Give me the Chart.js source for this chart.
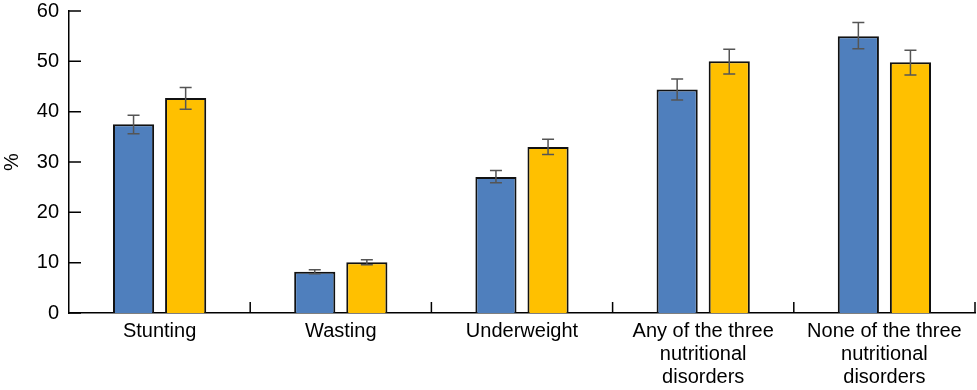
<!DOCTYPE html>
<html>
<head>
<meta charset="utf-8">
<script src="https://cdn.jsdelivr.net/npm/chart.js@4/dist/chart.umd.min.js"></script>
<style>
  body { margin: 0; background: #fff; }
  #wrap { width: 977px; height: 390px; }
</style>
</head>
<body>
<div id="wrap"><canvas id="barChart"></canvas></div>
<script>
var categories = [['Stunting'], ['Wasting'], ['Underweight'],
    ['Any of the three', 'nutritional', 'disorders'],
    ['None of the three', 'nutritional', 'disorders']];
var blueValues = [37.5, 8.2, 27.0, 44.4, 55.0];
var blueLow = [35.6, 7.8, 25.9, 42.3, 52.5];
var blueHigh = [39.3, 8.6, 28.3, 46.5, 57.7];
var yellowValues = [42.7, 10.1, 33.0, 50.0, 49.8];
var yellowLow = [40.5, 9.6, 31.5, 47.5, 47.3];
var yellowHigh = [44.8, 10.6, 34.5, 52.4, 52.2];
var yTicks = [0, 10, 20, 30, 40, 50, 60];

var errorBars = {
    id: 'errorBars',
    afterDatasetsDraw: function (chart) {
        var ctx = chart.ctx;
        var y = chart.scales.y;
        ctx.save();
        ctx.strokeStyle = '#555555';
        ctx.lineWidth = 1.5;
        chart.data.datasets.forEach(function (ds, i) {
            var meta = chart.getDatasetMeta(i);
            meta.data.forEach(function (bar, j) {
                var top = y.getPixelForValue(ds.errHigh[j]);
                var bot = y.getPixelForValue(ds.errLow[j]);
                ctx.beginPath();
                ctx.moveTo(bar.x, top); ctx.lineTo(bar.x, bot);
                ctx.moveTo(bar.x - 6, top); ctx.lineTo(bar.x + 6, top);
                ctx.moveTo(bar.x - 6, bot); ctx.lineTo(bar.x + 6, bot);
                ctx.stroke();
            });
        });
        ctx.restore();
    }
};

var innerTicks = {
    id: 'innerTicks',
    afterDraw: function (chart) {
        var ctx = chart.ctx;
        var x = chart.scales.x, y = chart.scales.y;
        var area = chart.chartArea;
        ctx.save();
        ctx.strokeStyle = '#000';
        ctx.lineWidth = 1.5;
        ctx.beginPath();
        yTicks.forEach(function (v) {
            var py = y.getPixelForValue(v);
            ctx.moveTo(area.left, py); ctx.lineTo(area.left + 12, py);
        });
        var step = (area.right - area.left) / categories.length;
        for (var i = 1; i <= categories.length; i++) {
            var px = area.left + step * i;
            ctx.moveTo(px, area.bottom); ctx.lineTo(px, area.bottom - 11);
        }
        ctx.stroke();
        ctx.restore();
    }
};

var ctx = document.getElementById('barChart').getContext('2d');
var chart = new Chart(ctx, {
    type: 'bar',
    data: {
        labels: categories,
        datasets: [{
            label: 'Group 1',
            data: blueValues,
            errLow: blueLow,
            errHigh: blueHigh,
            backgroundColor: '#4f7fbd',
            borderColor: '#111',
            borderWidth: 2
        }, {
            label: 'Group 2',
            data: yellowValues,
            errLow: yellowLow,
            errHigh: yellowHigh,
            backgroundColor: '#ffc000',
            borderColor: '#111',
            borderWidth: 2
        }]
    },
    options: {
        responsive: true,
        maintainAspectRatio: false,
        animation: false,
        layout: { padding: { top: 11, right: 2, left: 0, bottom: 0 } },
        datasets: { bar: { categoryPercentage: 0.575, barPercentage: 0.79 } },
        plugins: { legend: { display: false }, tooltip: { enabled: false } },
        scales: {
            x: {
                grid: { display: false, drawTicks: false },
                border: { display: true, color: '#000', width: 1.5 },
                ticks: {
                    color: '#000',
                    padding: 7,
                    maxRotation: 0,
                    autoSkip: false,
                    font: { family: 'Liberation Sans, Arial, sans-serif', size: 20, lineHeight: 1.15 }
                },
                afterFit: function (scale) {
                    scale.height = 77;
                    scale.paddingLeft = 0;
                    scale.paddingRight = 0;
                }
            },
            y: {
                min: 0,
                max: 60,
                grid: { display: false, drawTicks: false },
                border: { display: true, color: '#000', width: 1.5 },
                ticks: {
                    stepSize: 10,
                    color: '#000',
                    padding: 10,
                    font: { family: 'Liberation Sans, Arial, sans-serif', size: 20 }
                },
                title: {
                    display: true,
                    text: '%',
                    color: '#000',
                    padding: 0,
                    font: { family: 'Liberation Sans, Arial, sans-serif', size: 20 }
                },
                afterFit: function (scale) {
                    scale.width = 69;
                    scale.paddingTop = 0;
                    scale.paddingBottom = 0;
                }
            }
        }
    },
    plugins: [errorBars, innerTicks]
});
</script>
</body>
</html>
